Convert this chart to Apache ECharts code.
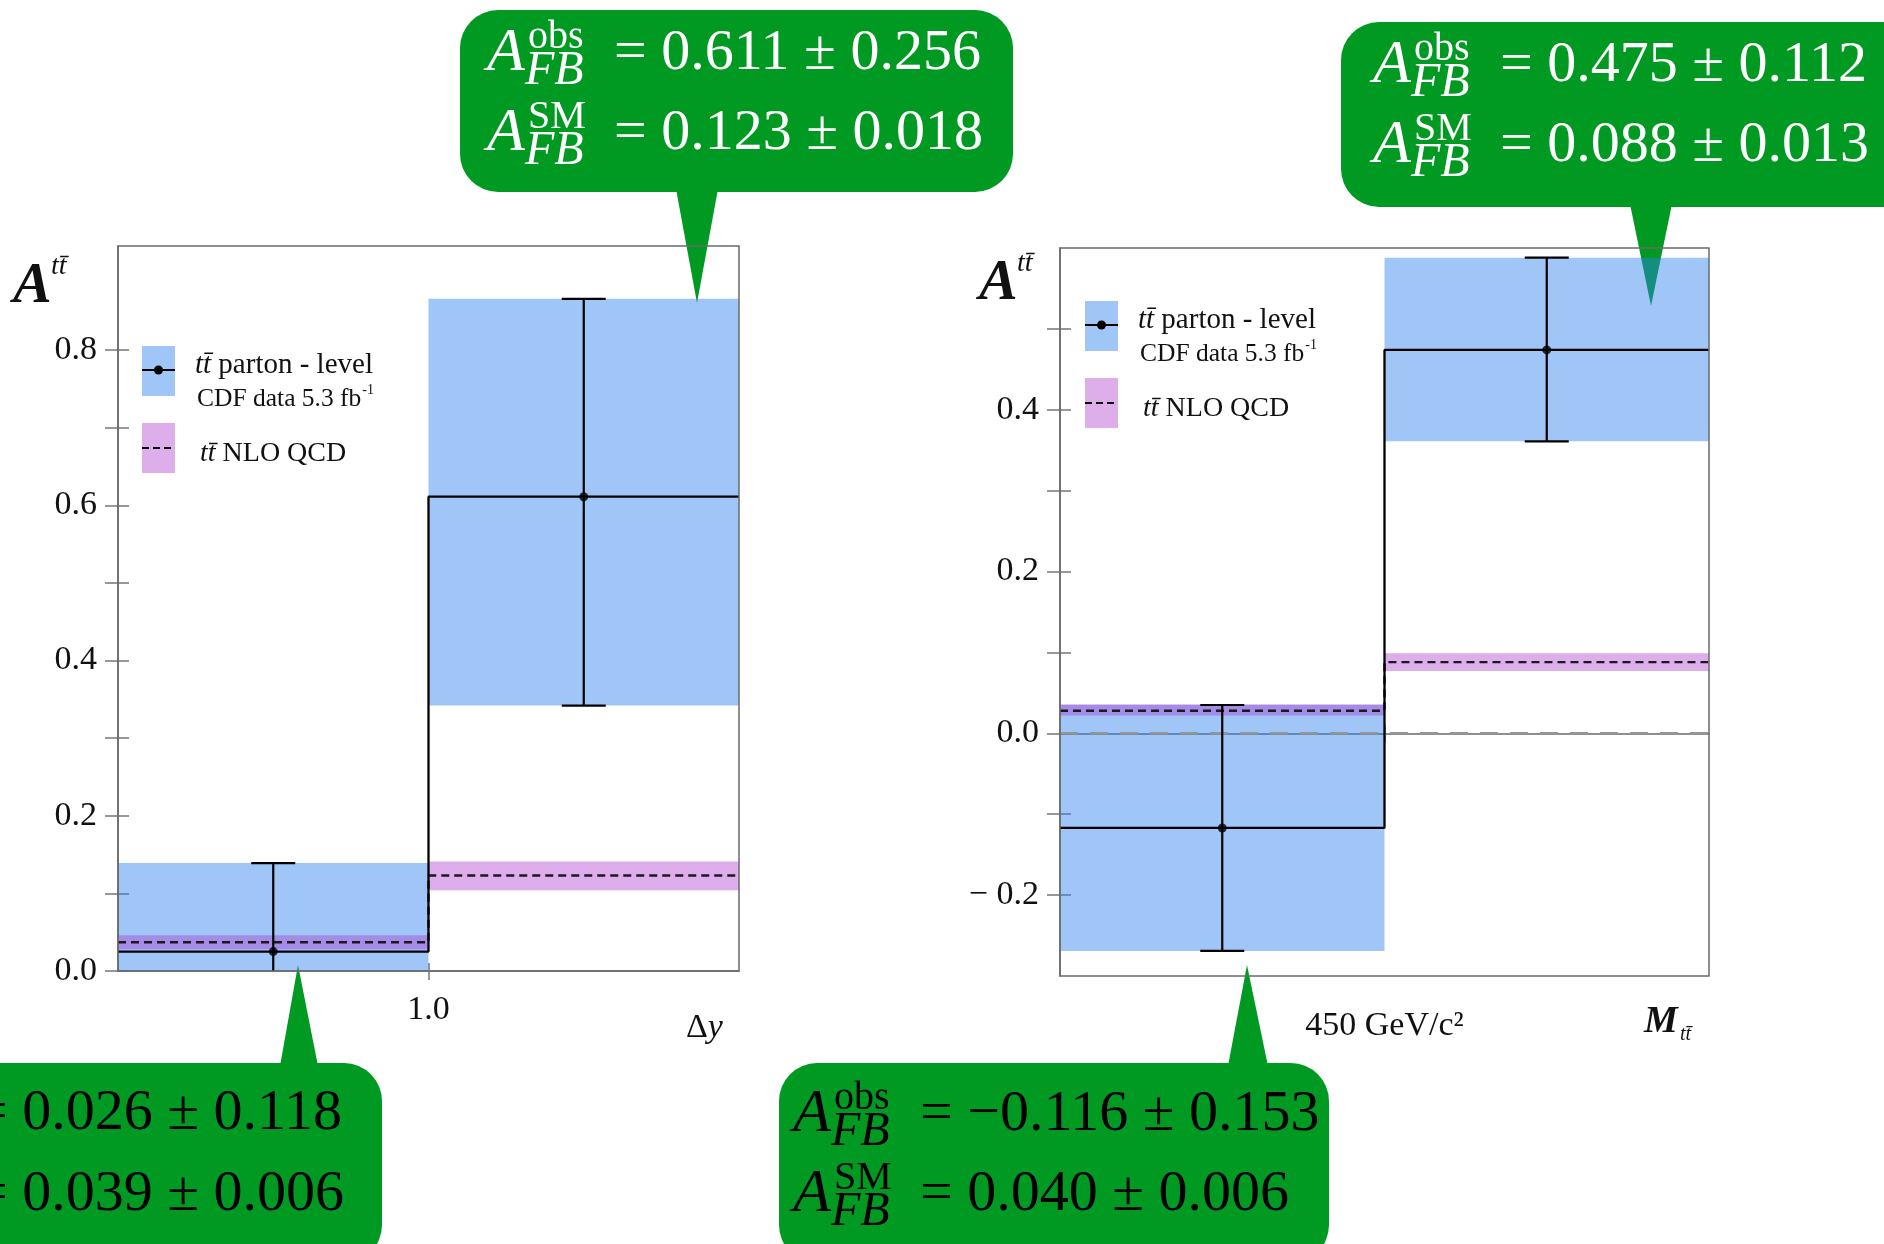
<!DOCTYPE html>
<html><head><meta charset="utf-8">
<script src="https://cdn.jsdelivr.net/npm/echarts@6/dist/echarts.min.js"></script>
<style>html,body{margin:0;padding:0;background:#fff;}#c{width:1884px;height:1244px;}</style>
</head><body><div id="c"></div>
<script>
// ---------------- DATA ----------------
const binEdges = [0, 1, 2];                 // bin edges (x = 1 is Δy = 1.0 / M = 450 GeV/c²)
// Left panel: A(Δy)
const dyObs   = [0.025, 0.611];
const dyObsLo = [-0.092, 0.342];
const dyObsHi = [0.139, 0.866];
const dyNlo   = [0.037, 0.123];
const dyNloLo = [0.028, 0.104];
const dyNloHi = [0.046, 0.141];
// Right panel: A(M_tt)
const mttObs   = [-0.117, 0.474];
const mttObsLo = [-0.269, 0.361];
const mttObsHi = [0.035, 0.588];
const mttNlo   = [0.028, 0.088];
const mttNloLo = [0.022, 0.077];
const mttNloHi = [0.036, 0.099];
const zeroRef  = 0;
// Axis ticks / labels
const dyYTicks   = [0, 0.1, 0.2, 0.3, 0.4, 0.5, 0.6, 0.7, 0.8];
const dyYLabels  = [0, 0.2, 0.4, 0.6, 0.8];
const mttYTicks  = [-0.2, -0.1, 0, 0.1, 0.2, 0.3, 0.4, 0.5];
const mttYLabels = [-0.2, 0, 0.2, 0.4];
const xTickVals  = [1];
const dyXLabels  = ['1.0'];
const mttXLabels = ['450 GeV/c²'];
// Callout texts: [bottom-left, top-left, bottom-right, top-right]
const calloutObs = ['0.026 ± 0.118', '0.611 ± 0.256', '−0.116 ± 0.153', '0.475 ± 0.112'];
const calloutSM  = ['0.039 ± 0.006', '0.123 ± 0.018', '0.040 ± 0.006', '0.088 ± 0.013'];

// ---------------- STYLE ----------------
const FONT = '"Liberation Serif", "Times New Roman", serif';
const BLUE = 'rgba(44,129,240,0.45)';
const PINK = 'rgba(172,55,209,0.41)';
const GREEN = '#009a22';
const FRAME = '#6a6a6a';

const chart = echarts.init(document.getElementById('c'), null, {renderer: 'canvas', width: 1884, height: 1244});

function fmtY(v) {
  const r = Math.round(v * 10) / 10;
  return r < 0 ? '− ' + (-r).toFixed(1) : r.toFixed(1);
}
function stepPts(edges, vals) {
  const p = [];
  vals.forEach((v, i) => { p.push([edges[i], v]); p.push([edges[i + 1], v]); });
  return p;
}
function bands(edges, lo, hi) { return lo.map((l, i) => [edges[i], edges[i + 1], l, hi[i]]); }
function centers(edges) { return edges.slice(0, -1).map((e, i) => (e + edges[i + 1]) / 2); }

function bandItem(fill) {
  return function (params, api) {
    const p0 = api.coord([api.value(0), api.value(3)]);
    const p1 = api.coord([api.value(1), api.value(2)]);
    const cs = params.coordSys;
    const shape = echarts.graphic.clipRectByRect(
      {x: p0[0], y: p0[1], width: p1[0] - p0[0], height: p1[1] - p0[1]},
      {x: cs.x, y: cs.y, width: cs.width, height: cs.height});
    return shape && {type: 'rect', shape: shape, style: {fill: fill}};
  };
}
function errItem(params, api) {
  const x = api.value(0);
  const pH = api.coord([x, api.value(2)]);
  const pL = api.coord([x, api.value(1)]);
  const cs = params.coordSys;
  const st = {stroke: '#000', lineWidth: 2.2};
  const yT = Math.max(pH[1], cs.y), yB = Math.min(pL[1], cs.y + cs.height);
  const ch = [{type: 'line', shape: {x1: pH[0], y1: yT, x2: pH[0], y2: yB}, style: st}];
  const cap = 22;
  if (pH[1] >= cs.y) ch.push({type: 'line', shape: {x1: pH[0] - cap, y1: pH[1], x2: pH[0] + cap, y2: pH[1]}, style: st});
  if (pL[1] <= cs.y + cs.height) ch.push({type: 'line', shape: {x1: pL[0] - cap, y1: pL[1], x2: pL[0] + cap, y2: pL[1]}, style: st});
  return {type: 'group', children: ch};
}

function panelSeries(gi, obs, lo, hi, nlo, nlolo, nlohi, zeroLine) {
  const c = centers(binEdges);
  const s = [
    {type: 'custom', xAxisIndex: gi, yAxisIndex: gi, renderItem: bandItem(BLUE), data: bands(binEdges, lo, hi), z: 2, silent: true},
    {type: 'custom', xAxisIndex: gi, yAxisIndex: gi, renderItem: bandItem(PINK), data: bands(binEdges, nlolo, nlohi), z: 3, silent: true}
  ];
  if (zeroLine) {
    s.push({type: 'line', xAxisIndex: gi, yAxisIndex: gi, symbol: 'none', z: 3, silent: true,
      data: [[binEdges[0], zeroRef], [binEdges[binEdges.length - 1], zeroRef]],
      lineStyle: {color: '#959595', width: 2.5, type: [18, 12]}});
  }
  s.push(
    {type: 'line', xAxisIndex: gi, yAxisIndex: gi, data: stepPts(binEdges, nlo), symbol: 'none', z: 4, silent: true,
      lineStyle: {color: '#1a1a1a', width: 2.4, type: [8, 5]}},
    {type: 'line', xAxisIndex: gi, yAxisIndex: gi, data: stepPts(binEdges, obs), symbol: 'none', z: 5, silent: true,
      lineStyle: {color: '#000', width: 2.3}},
    {type: 'custom', xAxisIndex: gi, yAxisIndex: gi, renderItem: errItem, data: c.map((x, i) => [x, lo[i], hi[i]]), z: 6, silent: true},
    {type: 'scatter', xAxisIndex: gi, yAxisIndex: gi, data: c.map((x, i) => [x, obs[i]]), symbolSize: 9, z: 7, silent: true,
      itemStyle: {color: '#000'}}
  );
  return s;
}

function yMain(gi, min, max, ticks, labels) {
  return {type: 'value', gridIndex: gi, min: min, max: max, position: 'left',
    axisLine: {show: true, lineStyle: {color: FRAME, width: 1.5}},
    axisTick: {show: true, inside: false, length: 13, customValues: ticks, lineStyle: {color: '#777', width: 1.5}},
    axisLabel: {show: true, margin: 21, customValues: labels, formatter: fmtY,
      fontFamily: FONT, fontSize: 34, color: '#111'},
    splitLine: {show: false}};
}
function yInner(gi, min, max, ticks) {
  return {type: 'value', gridIndex: gi, min: min, max: max, position: 'left',
    axisLine: {show: false}, axisLabel: {show: false}, splitLine: {show: false},
    axisTick: {show: true, inside: true, length: 11, customValues: ticks, lineStyle: {color: '#777', width: 1.5}}};
}
function xMain(gi, labels, margin) {
  return {type: 'value', gridIndex: gi, min: binEdges[0], max: binEdges[binEdges.length - 1], position: 'bottom',
    axisLine: {show: true, lineStyle: {color: FRAME, width: 1.5}},
    axisTick: {show: true, length: 9, customValues: xTickVals, lineStyle: {color: '#777', width: 1.5}},
    axisLabel: {show: true, margin: margin, customValues: xTickVals,
      formatter: v => labels[xTickVals.indexOf(Math.round(v * 1000) / 1000)] || '',
      fontFamily: FONT, fontSize: 34, color: '#111'},
    splitLine: {show: false}};
}
function xInner(gi) {
  return {type: 'value', gridIndex: gi, min: binEdges[0], max: binEdges[binEdges.length - 1], position: 'bottom',
    axisLine: {show: false}, axisLabel: {show: false}, splitLine: {show: false},
    axisTick: {show: true, inside: true, length: 8, customValues: xTickVals, lineStyle: {color: '#777', width: 1.5}}};
}

// ---------- text helpers ----------
function T(x, y, text, o) {
  o = o || {};
  return {type: 'text', x: x, y: y, z: o.z || 20, silent: true,
    style: {text: text, fill: o.fill || '#111', fontSize: o.size || 28, fontFamily: FONT,
      fontStyle: o.italic ? 'italic' : 'normal', fontWeight: o.bold ? 'bold' : 'normal',
      align: o.align || 'left', verticalAlign: 'middle', rich: o.rich}};
}
const mctx = document.createElement('canvas').getContext('2d');
function measure(text, size, italic) {
  mctx.font = (italic ? 'italic ' : '') + size + 'px ' + FONT;
  return mctx.measureText(text).width;
}

function legend(x, y) {
  const els = [];
  els.push({type: 'rect', shape: {x: x, y: y, width: 33, height: 50}, style: {fill: '#a0c6f8'}, z: 20});
  els.push({type: 'line', shape: {x1: x, y1: y + 24, x2: x + 33, y2: y + 24}, style: {stroke: '#000', lineWidth: 2.2}, z: 21});
  els.push({type: 'circle', shape: {cx: x + 16.5, cy: y + 24, r: 4.5}, style: {fill: '#000'}, z: 21});
  const rich1 = {i: {fontFamily: FONT, fontSize: 29, fontStyle: 'italic', fill: '#111'},
                 n: {fontFamily: FONT, fontSize: 29, fill: '#111'}};
  els.push(T(x + 53, y + 19, '{i|tt\u0304} {n|parton - level}', {size: 29, rich: rich1}));
  const cdf = 'CDF data 5.3 fb';
  els.push(T(x + 55, y + 53, cdf, {size: 25.5}));
  els.push(T(x + 55 + measure(cdf, 25.5) + 1, y + 44, '-1', {size: 14}));
  els.push({type: 'rect', shape: {x: x, y: y + 77, width: 33, height: 50}, style: {fill: '#ddaeea'}, z: 20});
  els.push({type: 'line', shape: {x1: x, y1: y + 102, x2: x + 33, y2: y + 102},
    style: {stroke: '#000', lineWidth: 2.2, lineDash: [7, 4]}, z: 21});
  const rich2 = {i: {fontFamily: FONT, fontSize: 28, fontStyle: 'italic', fill: '#111'},
                 n: {fontFamily: FONT, fontSize: 28, fill: '#111'}};
  els.push(T(x + 58, y + 108, '{i|tt\u0304} {n|NLO QCD}', {size: 28, rich: rich2}));
  return els;
}

function yTitle(x, y) {
  return [T(x, y, 'A', {size: 58, italic: true, bold: true}),
          T(x + 38, y - 20, 'tt\u0304', {size: 28, italic: true})];
}

function callout(idx, box, ptr, color, ax, yc1, dy) {
  const els = [];
  els.push({type: 'rect', shape: {x: box[0], y: box[1], width: box[2], height: box[3], r: 38},
    style: {fill: GREEN}, z: 1, silent: true});
  els.push({type: 'polygon', shape: {points: ptr}, style: {fill: GREEN}, z: 1, silent: true});
  [['obs', calloutObs[idx]], ['SM', calloutSM[idx]]].forEach((ln, i) => {
    const yc = yc1 + i * dy;
    els.push(T(ax, yc, 'A', {size: 62, italic: true, fill: color, z: 30}));
    els.push(T(ax + 41, yc - 17, ln[0], {size: 40, fill: color, z: 30}));
    els.push(T(ax + 38, yc + 17, 'FB', {size: 48, italic: true, fill: color, z: 30}));
    els.push(T(ax + 127, yc, '= ' + ln[1], {size: 58, fill: color, z: 30}));
  });
  return els;
}

const graphics = [].concat(
  legend(142, 346),
  legend(1085, 301),
  yTitle(13, 287),
  yTitle(979, 284),
  [T(686, 1028, '{n|Δ}{i|y}', {size: 34, rich: {
      n: {fontFamily: FONT, fontSize: 34, fill: '#111'},
      i: {fontFamily: FONT, fontSize: 34, fontStyle: 'italic', fill: '#111'}}})],
  [T(1644, 1022, 'M', {size: 38, italic: true, bold: true}),
   T(1680, 1035, 'tt\u0304', {size: 20, italic: true})],
  callout(0, [-220, 1063, 602, 200], [[280, 1066], [318, 1066], [298, 965]], '#000', -152, 1114, 81),
  callout(1, [460, 10, 553, 182], [[676, 189], [718, 189], [697, 303]], '#fff', 487, 54, 80),
  callout(2, [779, 1063, 550, 200], [[1228, 1066], [1268, 1066], [1247, 965]], '#000', 793, 1115, 80),
  callout(3, [1341, 22, 580, 185], [[1630, 204], [1672, 204], [1651, 306]], '#fff', 1373, 66, 80)
);

const option = {
  animation: false,
  backgroundColor: '#fff',
  grid: [
    {left: 118, top: 246, width: 621, height: 725, show: true, borderColor: FRAME, borderWidth: 1.5, z: 8},
    {left: 1060, top: 248, width: 649, height: 728, show: true, borderColor: FRAME, borderWidth: 1.5, z: 8}
  ],
  xAxis: [xMain(0, dyXLabels, 22), xMain(1, mttXLabels, 33), xInner(0), xInner(1)],
  yAxis: [yMain(0, 0, 0.934, dyYTicks, dyYLabels), yMain(1, -0.3, 0.6, mttYTicks, mttYLabels),
          yInner(0, 0, 0.934, dyYTicks), yInner(1, -0.3, 0.6, mttYTicks)],
  series: [].concat(
    panelSeries(0, dyObs, dyObsLo, dyObsHi, dyNlo, dyNloLo, dyNloHi, false),
    panelSeries(1, mttObs, mttObsLo, mttObsHi, mttNlo, mttNloLo, mttNloHi, true)
  ),
  graphic: {elements: graphics}
};
chart.setOption(option);
</script>
</body></html>
